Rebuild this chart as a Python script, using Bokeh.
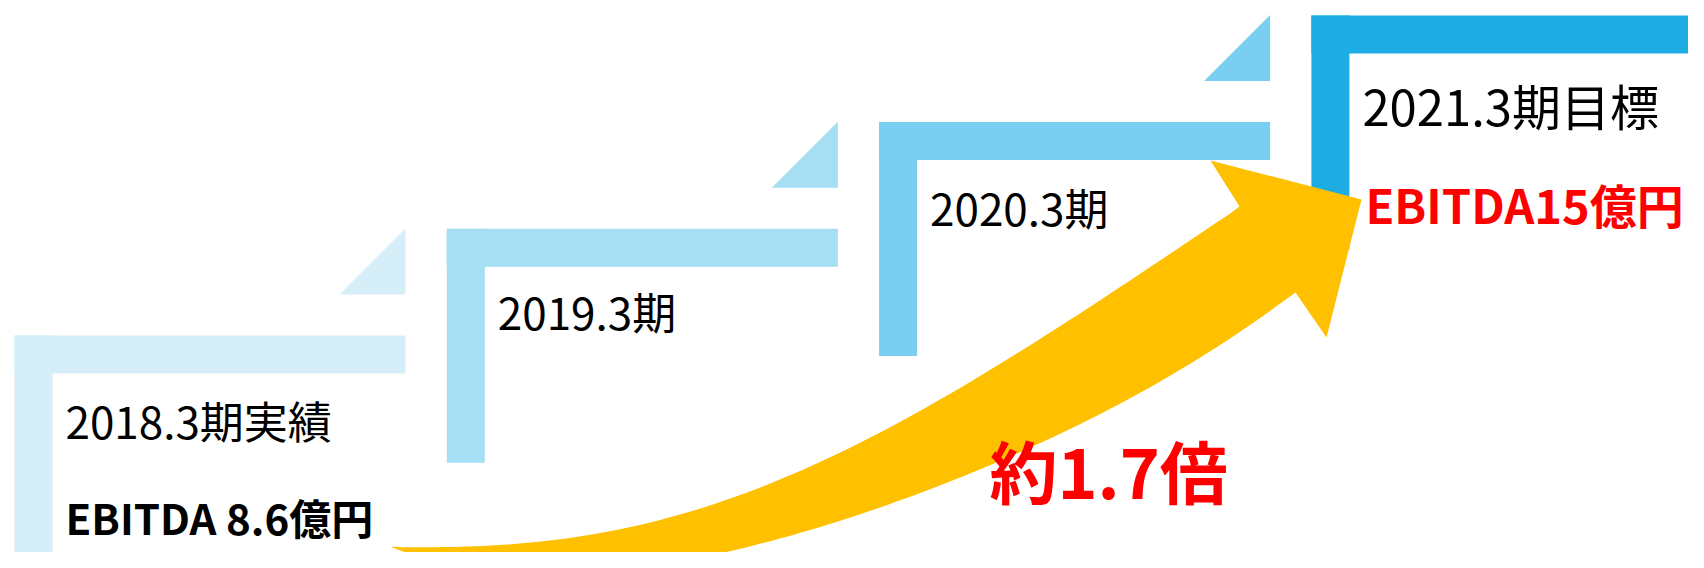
import numpy as np
from bokeh.plotting import figure
from bokeh.models import Range1d
from bokeh.core.properties import value
from bokeh.embed import file_html
from bokeh.resources import INLINE

# ---------------- data ----------------
periods = ["2018.3期実績", "2019.3期", "2020.3期", "2021.3期目標"]
step_colors = ["#D5EEF8", "#A6DEF4", "#7ACEF0", "#1EADE3"]
ebitda_start = 8.6      # 億円 (2018.3期実績)
ebitda_target = 15      # 億円 (2021.3期目標)
ebitda_labels = ["EBITDA 8.6億円", "EBITDA15億円"]
growth_label = "約%.1f倍" % (ebitda_target / ebitda_start)

# ---------------- layout (picture pixels) ----------------
STEP_X0, STEP_DX = 14, 432.3
STEP_Y0, STEP_DY = 335, 106.7
BAR_LEN, BAR_T, STEM_H = 391, 38, 234
TRI, TRI_GAP = 66, 41
FONT = value("Noto Sans CJK JP")
BASE_K = 0.42   # baseline correction (em)

W, H = 1688, 552
p = figure(width=W, height=H, x_range=Range1d(0, W), y_range=Range1d(H, 0),
           output_backend="svg", toolbar_location=None, min_border=0)
p.axis.visible = False
p.grid.visible = False
p.outline_line_color = None
p.background_fill_color = "white"

n = len(periods)
lefts = [STEP_X0 + i * STEP_DX for i in range(n)]
tops = [STEP_Y0 - i * STEP_DY for i in range(n)]

# step L-shapes
p.quad(left=lefts, right=[l + BAR_LEN for l in lefts], top=tops,
       bottom=[t + BAR_T for t in tops], fill_color=step_colors, line_color=None)
p.quad(left=lefts, right=[l + BAR_T for l in lefts], top=tops,
       bottom=[t + STEM_H for t in tops], fill_color=step_colors, line_color=None)
# triangles
xs, ys = [], []
for l, t in zip(lefts, tops):
    r = l + BAR_LEN
    b = t - TRI_GAP
    xs.append([r - TRI, r, r])
    ys.append([b, b - TRI, b])
p.patches(xs, ys, fill_color=step_colors, line_color=None)

# ---------------- arrow ----------------
upper = np.array([(390, 546), (460, 548), (560, 538), (640, 522), (740, 497), (840, 452),
                  (940, 398), (1020, 350), (1120, 287), (1220, 220), (1239, 206)], float)
head = [(1210, 160), (1361, 199), (1326, 337)]
lower = np.array([(1295, 292), (1220, 343), (1120, 403), (1030, 450), (940, 482), (840, 518),
                  (740, 552), (640, 567), (580, 571), (520, 571), (460, 567), (420, 557),
                  (390, 546)], float)

def smooth_edge(pts, deg=5, num=80):
    c = np.polyfit(pts[:, 0], pts[:, 1], deg)
    x = np.linspace(pts[0, 0], pts[-1, 0], num)
    y = np.polyval(c, x)
    y[0], y[-1] = pts[0, 1], pts[-1, 1]
    return x, y

ux, uy = smooth_edge(upper)
lx, ly = smooth_edge(lower)
ax = list(ux) + [h[0] for h in head] + list(lx)
ay = list(uy) + [h[1] for h in head] + list(ly)
p.patch(ax, ay, fill_color="#FFC000", line_color=None)

# ---------------- texts ----------------
def put(x, baseline, txt, size, color="#000000", style="normal"):
    p.text(x=[x], y=[baseline - BASE_K * size], text=[txt], text_font=FONT,
           text_font_size="%dpx" % size, text_font_style=style, text_color=color,
           text_baseline="alphabetic", text_align="left")

label_sizes = [44, 44, 44, 49]
label_offsets = [103, 101, 103, 110]
for i in range(n):
    put(lefts[i] + 51, tops[i] + label_offsets[i], periods[i], label_sizes[i])

put(lefts[0] + 51, tops[0] + 199, ebitda_labels[0], 42, "#000000", "bold")
put(lefts[3] + 54, tops[3] + 208, ebitda_labels[1], 47, "#FF0000", "bold")
put(989, 498, growth_label, 68, "#FF0000", "bold")

open("out.html", "w").write(file_html(p, INLINE))
